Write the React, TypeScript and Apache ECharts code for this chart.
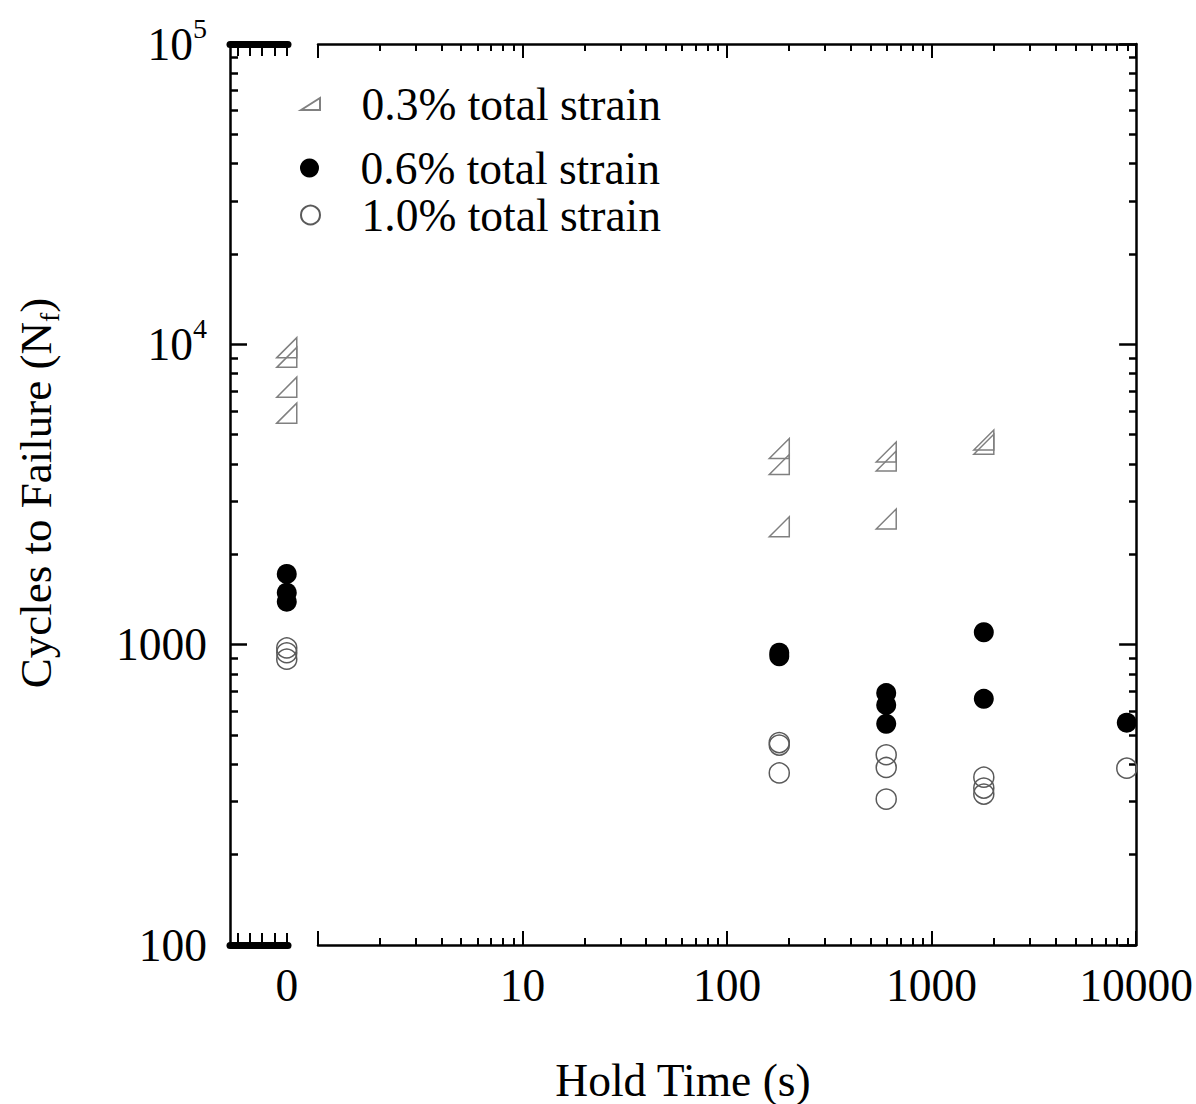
import React, { useEffect, useRef } from "react";
import * as echarts from "echarts";

// ---- data ----
const strainNames = ["0.3% total strain", "0.6% total strain", "1.0% total strain"];

// hold time = 0 (left broken segment)
const cyclesAtZero03 = [9750, 9050, 7200, 5900];
const cyclesAtZero06 = [1720, 1490, 1390];
const cyclesAtZero10 = [975, 940, 895];

// hold time > 0 (log segment)
const holdTimes03 = [180, 180, 180, 600, 600, 600, 1800, 1800];
const cycles03 = [4500, 3980, 2470, 4380, 4090, 2620, 4800, 4650];
const holdTimes06 = [180, 180, 600, 600, 600, 1800, 1800, 9000];
const cycles06 = [940, 915, 690, 630, 545, 1100, 660, 550];
const holdTimes10 = [180, 180, 180, 600, 600, 600, 1800, 1800, 1800, 9000];
const cycles10 = [472, 463, 374, 430, 390, 306, 362, 333, 318, 388];

// ticks
const xDecades = [1, 10, 100, 1000, 10000];
const xLabelValues = [10, 100, 1000, 10000];
const yDecades = [100, 1000, 10000, 100000];
const zeroSegTicks = [-4, -3, -2, -1, 0];
const zeroSegLabels = [0];

const minorOf = (dec: number[]) =>
  dec.slice(0, -1).flatMap((d) => [2, 3, 4, 5, 6, 7, 8, 9].map((m) => m * d));

const FONT = '"Liberation Serif", "Times New Roman", serif';
const FS = 45.5;
const TRI = "path://M0,20 L20,0 L20,20 Z";
const TRI_LEGEND = "path://M0,12 L19,0 L19,12 Z";

export default function App() {
  const ref = useRef<HTMLDivElement>(null);
  useEffect(() => {
    document.body.style.margin = "0";
    const chart = echarts.init(ref.current!, null, { renderer: "svg" });

    const triStyle = { color: "rgba(0,0,0,0)", borderColor: "#808080", borderWidth: 1.5, opacity: 1 };
    const fillStyle = { color: "#000", borderColor: "#000", borderWidth: 0, opacity: 1 };
    const openStyle = { color: "rgba(0,0,0,0)", borderColor: "#5a5a5a", borderWidth: 1.5, opacity: 1 };

    const lbl = { fontFamily: FONT, fontSize: FS, color: "#000" };
    const blk = (w: number) => ({ color: "#000", width: w });

    const G0 = { left: 230, top: 44, width: 58, height: 901 };
    const G1 = { left: 318, top: 44, width: 819, height: 901 };

    const zeroX = (gridIndex: number, position: string, withLabel: boolean, show = true) => ({
      gridIndex, position, type: "value", min: -4.6, max: 0.1, show,
      splitLine: { show: false },
      axisLine: { show: true, onZero: false, lineStyle: blk(7) },
      axisTick: { show: true, inside: true, length: 12, customValues: zeroSegTicks, lineStyle: blk(2) },
      axisLabel: withLabel
        ? { show: true, margin: 17, customValues: zeroSegLabels, formatter: (v: number) => String(Math.round(v)), ...lbl }
        : { show: false },
    });

    const logX = (gridIndex: number, position: string, minor: boolean, withLabel: boolean) => ({
      gridIndex, position, type: "log", logBase: 10, min: 1, max: 10000,
      splitLine: { show: false },
      axisLine: { show: !minor, onZero: false, lineStyle: blk(2.5) },
      axisTick: {
        show: true, inside: true, length: minor ? 7 : 14,
        customValues: minor ? minorOf(xDecades) : xDecades, lineStyle: blk(2),
      },
      axisLabel: withLabel
        ? { show: true, margin: 17, customValues: xLabelValues, formatter: (v: number) => String(Math.round(v)), ...lbl }
        : { show: false },
    });

    const logY = (gridIndex: number, position: string, minor: boolean, withLabel: boolean) => ({
      gridIndex, position, type: "log", logBase: 10, min: 100, max: 100000,
      splitLine: { show: false },
      axisLine: { show: !minor, onZero: false, lineStyle: blk(2.5) },
      axisTick: {
        show: true, inside: true, length: minor ? 8 : 17,
        customValues: minor ? minorOf(yDecades) : yDecades, lineStyle: blk(2.5),
      },
      axisLabel: withLabel
        ? {
            show: true,
            margin: 23,
            customValues: yDecades,
            formatter: (v: number) => {
              const e = Math.round(Math.log10(v));
              if (e <= 3) return "{b|" + String(Math.round(v)) + "}";
              return "{b|10}{s|" + e + "}";
            },
            rich: {
              b: { fontFamily: FONT, fontSize: FS, color: "#000" },
              s: { fontFamily: FONT, fontSize: 28, color: "#000", padding: [0, 0, 31, 0] },
            },
          }
        : { show: false },
    });

    const option: any = {
      animation: false,
      backgroundColor: "#fff",
      grid: [
        { ...G0, containLabel: false }, // 0: zero-hold segment, major
        { ...G1, containLabel: false }, // 1: log segment, major
        { ...G0, containLabel: false }, // 2: zero-hold segment, minor y ticks
        { ...G1, containLabel: false }, // 3: log segment, minor ticks
      ],
      xAxis: [
        zeroX(0, "bottom", true),        // 0
        zeroX(0, "top", false),          // 1
        logX(1, "bottom", false, true),  // 2
        logX(1, "top", false, false),    // 3
        { ...zeroX(2, "bottom", false, false) }, // 4 (hidden)
        logX(3, "bottom", true, false),  // 5
        logX(3, "top", true, false),     // 6
      ],
      yAxis: [
        logY(0, "left", false, true),    // 0
        logY(1, "right", false, false),  // 1
        logY(2, "left", true, false),    // 2
        logY(3, "right", true, false),   // 3
      ],
      legend: [
        {
          data: [{ name: strainNames[0], icon: TRI_LEGEND }],
          left: 300, top: 81, padding: 0, itemWidth: 20, itemHeight: 12,
          selectedMode: false, textStyle: { ...lbl, padding: [0, 0, 0, 36] },
        },
        {
          data: [strainNames[1]],
          left: 300, top: 145, padding: 0, itemWidth: 20, itemHeight: 19,
          selectedMode: false, textStyle: { ...lbl, padding: [0, 0, 0, 36] },
        },
        {
          data: [strainNames[2]],
          left: 300, top: 192, padding: 0, itemWidth: 20, itemHeight: 19,
          selectedMode: false, textStyle: { ...lbl, padding: [0, 0, 0, 36] },
        },
      ],
      graphic: [
        {
          type: "text",
          x: 683,
          y: 1080,
          style: { text: "Hold Time (s)", fontFamily: FONT, fontSize: FS, fill: "#000", align: "center", verticalAlign: "middle" },
        },
        {
          type: "text",
          x: 36,
          y: 493,
          rotation: Math.PI / 2,
          style: {
            text: "{a|Cycles to Failure (N}{f|f}{a|)}",
            align: "center",
            verticalAlign: "middle",
            rich: {
              a: { fontFamily: FONT, fontSize: 45, fill: "#000", color: "#000" },
              f: { fontFamily: FONT, fontSize: 28, fill: "#000", color: "#000", padding: [26, 0, 0, 0] },
            },
          },
        },
      ],
      series: [
        {
          name: strainNames[0], type: "scatter", xAxisIndex: 0, yAxisIndex: 0, clip: false,
          symbol: TRI, symbolSize: 20, itemStyle: triStyle,
          data: cyclesAtZero03.map((c) => [0, c]),
        },
        {
          name: strainNames[0], type: "scatter", xAxisIndex: 2, yAxisIndex: 1, clip: false,
          symbol: TRI, symbolSize: 20, itemStyle: triStyle,
          data: holdTimes03.map((t, i) => [t, cycles03[i]]),
        },
        {
          name: strainNames[1], type: "scatter", xAxisIndex: 0, yAxisIndex: 0, clip: false,
          symbol: "circle", symbolSize: 20, itemStyle: fillStyle,
          data: cyclesAtZero06.map((c) => [0, c]),
        },
        {
          name: strainNames[1], type: "scatter", xAxisIndex: 2, yAxisIndex: 1, clip: false,
          symbol: "circle", symbolSize: 20, itemStyle: fillStyle,
          data: holdTimes06.map((t, i) => [t, cycles06[i]]),
        },
        {
          name: strainNames[2], type: "scatter", xAxisIndex: 0, yAxisIndex: 0, clip: false,
          symbol: "circle", symbolSize: 20, itemStyle: openStyle,
          data: cyclesAtZero10.map((c) => [0, c]),
        },
        {
          name: strainNames[2], type: "scatter", xAxisIndex: 2, yAxisIndex: 1, clip: false,
          symbol: "circle", symbolSize: 20, itemStyle: openStyle,
          data: holdTimes10.map((t, i) => [t, cycles10[i]]),
        },
      ],
    };

    chart.setOption(option);
    return () => chart.dispose();
  }, []);

  return (
    <div
      ref={ref}
      style={{ position: "absolute", left: 0, top: 0, width: 1196, height: 1104, background: "#fff" }}
    />
  );
}
